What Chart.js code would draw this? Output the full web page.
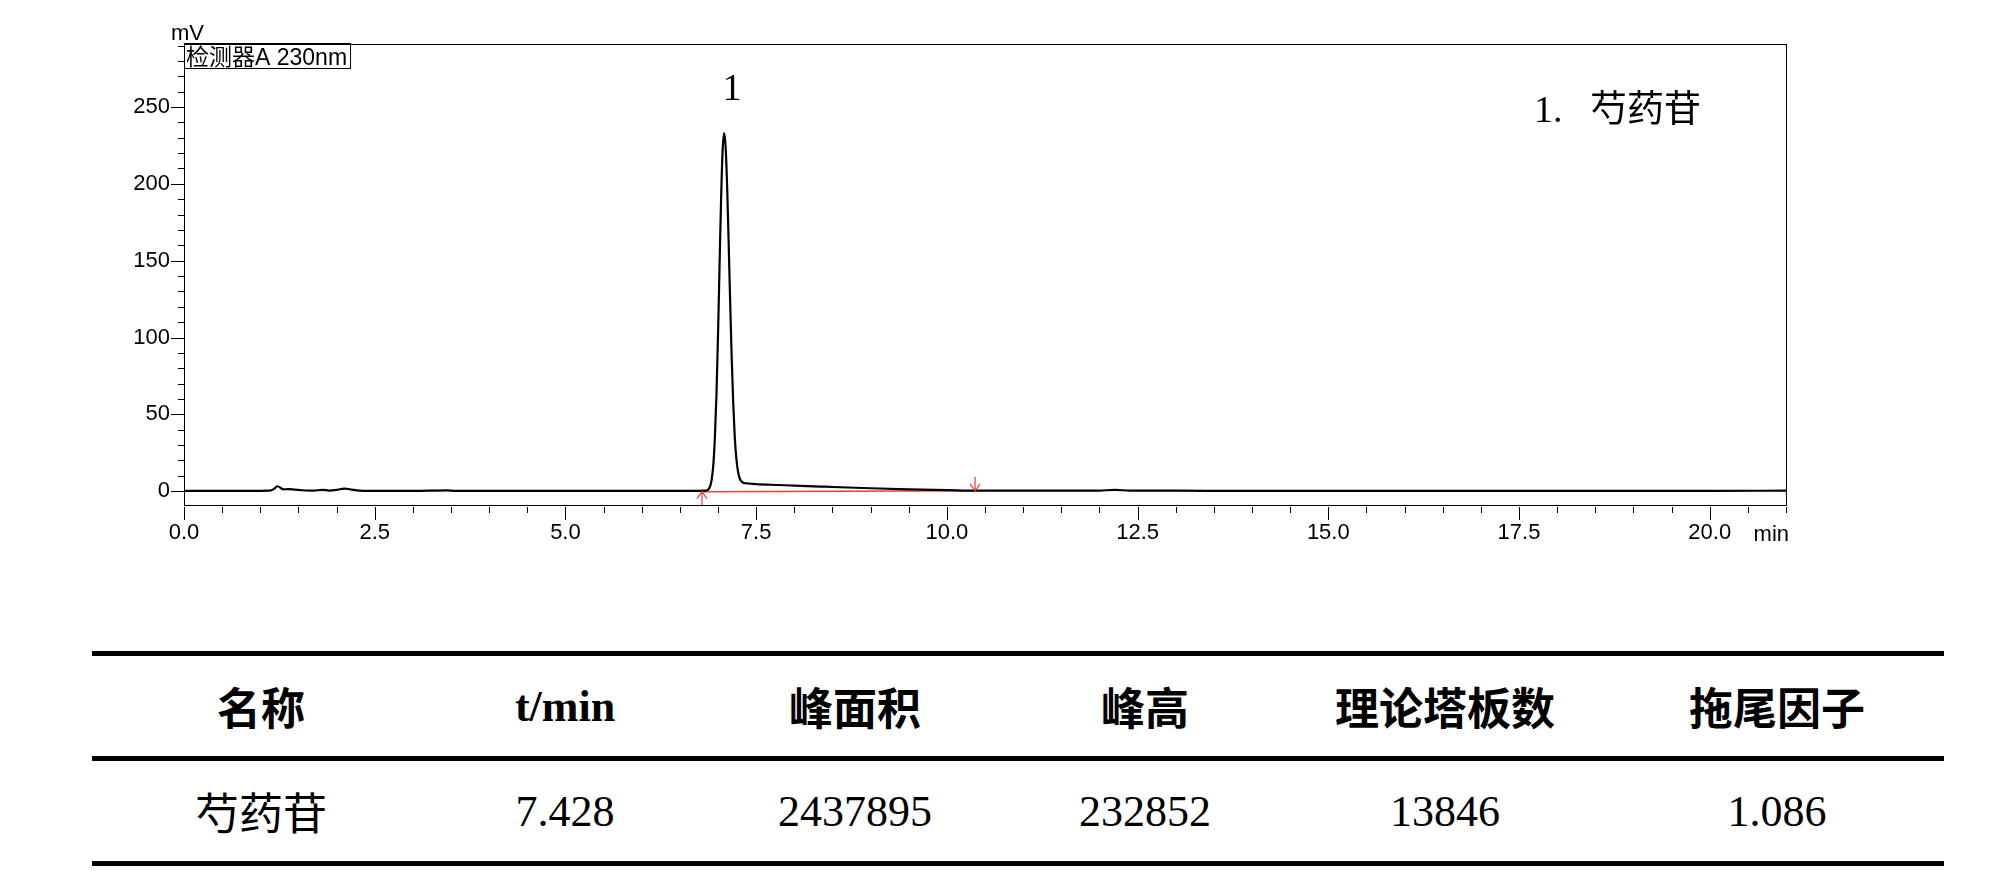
<!DOCTYPE html>
<html>
<head>
<meta charset="utf-8">
<script src="https://cdn.jsdelivr.net/npm/chart.js@4.4.0/dist/chart.umd.min.js"></script>
<style>
  body { margin: 0; background: #fff; }
  #wrap { position: relative; width: 2000px; height: 884px; overflow: hidden; }
  #chart { position: absolute; left: 0; top: 0; }
  #result {
    position: absolute; left: 92px; top: 651px; width: 1852px;
    border-collapse: collapse; table-layout: fixed;
    border-top: 5px solid #000; border-bottom: 5px solid #000;
  }
  #result td, #result th {
    height: 100px; padding: 0; text-align: center; vertical-align: middle;
    font-size: 44px; color: #000;
  }
  #result th { font-family: "Liberation Serif", "Noto Sans CJK SC"; font-weight: 700; }
  #result td { font-family: "Liberation Serif", "Noto Sans CJK SC"; font-weight: 400; }
  #result thead tr { border-bottom: 5px solid #000; }
</style>
</head>
<body>
<div id="wrap">
  <canvas id="chart" width="2000" height="560"></canvas>
  <table id="result">
    <colgroup>
      <col style="width:338px"><col style="width:270px"><col style="width:310px">
      <col style="width:270px"><col style="width:330px"><col style="width:334px">
    </colgroup>
    <thead><tr id="headRow"></tr></thead>
    <tbody><tr id="valueRow"></tr></tbody>
  </table>
</div>
<script>
// chromatogram trace (min, mV)
const timeMin = [
  0.00, 0.50, 1.00, 1.12, 1.18, 1.22, 1.26, 1.30, 1.37, 1.45, 1.55, 1.70, 1.81, 1.90,
  2.00, 2.10, 2.18, 2.30, 2.60, 3.00, 3.45, 3.55, 4.00, 4.50, 5.00, 5.50, 6.00, 6.50,
  6.75, 6.82, 6.86, 6.88, 6.90, 6.92, 6.94, 6.96, 6.98, 7.00, 7.02, 7.04, 7.06, 7.08,
  7.10, 7.12, 7.14, 7.16, 7.18, 7.20, 7.22, 7.24, 7.26, 7.28, 7.30, 7.33, 7.40, 7.50,
  7.80, 8.00, 8.40, 9.00, 9.50, 10.00, 10.40, 10.80, 11.50, 12.00, 12.20, 12.40, 13.00,
  14.00, 15.00, 16.00, 17.00, 18.00, 19.00, 20.00, 21.00
];
const signalMV = [
  0.2, 0.2, 0.2, 0.3, 1.5, 3.2, 2.4, 1.2, 1.3, 1.0, 0.6, 0.3, 0.9, 0.4,
  0.8, 1.7, 1.2, 0.4, 0.2, 0.2, 0.5, 0.2, 0.2, 0.2, 0.2, 0.2, 0.2, 0.2,
  0.2, 0.3, 0.6, 1.5, 3.7, 8.5, 18, 36, 63, 101, 146, 189, 221, 233,
  224, 198, 161, 122, 86, 57, 35, 21.5, 13.5, 9.0, 6.8, 5.5, 5.0, 4.6,
  4.0, 3.6, 2.9, 1.9, 1.2, 0.7, 0.3, 0.3, 0.3, 0.4, 0.8, 0.4, 0.3,
  0.2, 0.2, 0.2, 0.2, 0.2, 0.2, 0.2, 0.3
];

// integration baseline and its start / end marks
const baseTime = [6.79, 10.37];
const baseMV = [-0.3, 0.2];

// peak labels
const peakNo = ['1'];
const peakTime = [7.08];
const peakHeight = [233];
const compoundNames = ['芍药苷'];

// axis ticks
const xTicks = [0, 2.5, 5, 7.5, 10, 12.5, 15, 17.5, 20];
const yTicks = [0, 50, 100, 150, 200, 250];

// result table
const tableHead = ['名称', 't/min', '峰面积', '峰高', '理论塔板数', '拖尾因子'];
const tableRow = ['芍药苷', '7.428', '2437895', '232852', '13846', '1.086'];

document.getElementById('headRow').innerHTML = tableHead.map(h => '<th>' + h + '</th>').join('');
document.getElementById('valueRow').innerHTML = tableRow.map(v => '<td>' + v + '</td>').join('');

const RED = 'rgb(232,64,52)';

const decor = {
  id: 'decor',
  afterDraw(chart) {
    const { ctx, chartArea: a, scales: { x, y } } = chart;
    ctx.save();
    ctx.strokeStyle = '#000';
    ctx.lineWidth = 1;
    ctx.strokeRect(a.left + 0.5, a.top + 0.5, a.right - a.left, a.bottom - a.top);

    // tick marks, minor every 10 mV / 0.5 min
    ctx.beginPath();
    for (let v = 0; v <= 290; v += 10) {
      const py = Math.round(y.getPixelForValue(v)) + 0.5;
      const len = v % 50 === 0 ? 13 : 6;
      ctx.moveTo(a.left - len, py);
      ctx.lineTo(a.left, py);
    }
    for (let i = 0; i <= 42; i++) {
      const v = i * 0.5;
      const px = Math.round(x.getPixelForValue(v)) + 0.5;
      const len = i % 5 === 0 ? 13 : 6;
      ctx.moveTo(px, a.bottom + 2);
      ctx.lineTo(px, a.bottom + 2 + len);
    }
    ctx.stroke();

    // integration marks
    ctx.strokeStyle = RED;
    ctx.lineWidth = 1.2;
    const sx = x.getPixelForValue(baseTime[0]);
    const sy = y.getPixelForValue(baseMV[0]);
    ctx.beginPath();
    ctx.moveTo(sx, a.bottom); ctx.lineTo(sx, sy);
    ctx.moveTo(sx - 5, sy + 7); ctx.lineTo(sx, sy); ctx.lineTo(sx + 5, sy + 7);
    const ex = x.getPixelForValue(baseTime[1]);
    const ey = y.getPixelForValue(baseMV[1]);
    ctx.moveTo(ex, ey - 14); ctx.lineTo(ex, ey);
    ctx.moveTo(ex - 5, ey - 7); ctx.lineTo(ex, ey); ctx.lineTo(ex + 5, ey - 7);
    ctx.stroke();

    ctx.fillStyle = '#000';
    // axis unit labels
    ctx.font = '22px "Liberation Sans"';
    ctx.textAlign = 'left';
    ctx.textBaseline = 'alphabetic';
    ctx.fillText('mV', a.left - 13, a.top - 4);
    ctx.textAlign = 'right';
    ctx.fillText('min', a.right + 3, a.bottom + 36);

    // detector box
    ctx.font = '23px "Liberation Sans", "Noto Sans CJK SC"';
    ctx.textAlign = 'left';
    const label = '检测器A 230nm';
    const w = ctx.measureText(label).width;
    ctx.fillText(label, a.left + 2, a.top + 21);
    ctx.lineWidth = 1;
    ctx.strokeStyle = '#000';
    ctx.strokeRect(a.left + 0.5, a.top - 0.5, w + 5, 25);

    // peak numbers
    ctx.font = '38px "Liberation Serif"';
    ctx.textAlign = 'center';
    peakNo.forEach((n, i) => {
      ctx.fillText(n, x.getPixelForValue(peakTime[i]) + 8, y.getPixelForValue(peakHeight[i]) - 33);
    });

    // peak legend
    ctx.textAlign = 'left';
    peakNo.forEach((n, i) => {
      const ly = 122 + i * 46;
      ctx.font = '38px "Liberation Serif"';
      ctx.fillText(n + '.', 1534, ly);
      ctx.font = '37px "Noto Sans CJK SC"';
      ctx.fillText(compoundNames[i], 1590, ly);
    });
    ctx.restore();
  }
};

new Chart(document.getElementById('chart'), {
  type: 'scatter',
  data: {
    datasets: [
      {
        label: 'trace',
        data: timeMin.map((t, i) => ({ x: t, y: signalMV[i] })),
        showLine: true,
        borderColor: '#000',
        borderWidth: 2.2,
        pointRadius: 0,
        cubicInterpolationMode: 'monotone',
        order: 1
      },
      {
        label: 'baseline',
        data: baseTime.map((t, i) => ({ x: t, y: baseMV[i] })),
        showLine: true,
        borderColor: RED,
        borderWidth: 1.5,
        pointRadius: 0,
        order: 2
      }
    ]
  },
  options: {
    responsive: false,
    animation: false,
    devicePixelRatio: 1,
    layout: { padding: { left: 0, top: 44, right: 214, bottom: 0 } },
    plugins: { legend: { display: false }, tooltip: { enabled: false } },
    scales: {
      x: {
        type: 'linear',
        min: 0,
        max: 21,
        afterBuildTicks: s => { s.ticks = xTicks.map(v => ({ value: v })); },
        afterFit: s => { s.height = 55; },
        grid: { display: false, drawTicks: true, tickLength: 13 },
        border: { display: false },
        ticks: {
          color: '#000',
          padding: 2,
          maxRotation: 0,
          autoSkip: false,
          font: { family: 'Liberation Sans', size: 22 },
          callback: v => Number(v).toFixed(1)
        }
      },
      y: {
        type: 'linear',
        min: -9,
        max: 291,
        afterBuildTicks: s => { s.ticks = yTicks.map(v => ({ value: v })); },
        afterFit: s => { s.width = 184; },
        grid: { display: false, drawTicks: true, tickLength: 13 },
        border: { display: false },
        ticks: {
          color: '#000',
          padding: 1,
          font: { family: 'Liberation Sans', size: 22 },
          callback: v => String(v)
        }
      }
    }
  },
  plugins: [decor]
});
</script>
</body>
</html>
